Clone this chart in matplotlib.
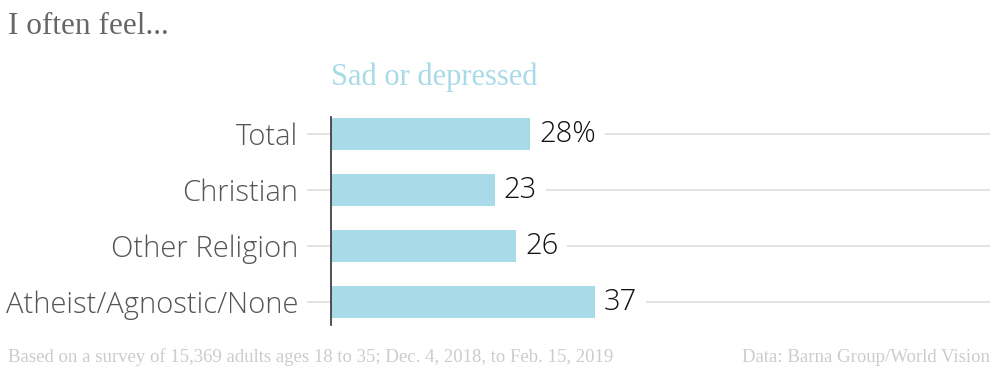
import numpy as np
import matplotlib
matplotlib.use('Agg')
import matplotlib.pyplot as plt

## == data ==
categories = ['Total', 'Christian', 'Other Religion', 'Atheist/Agnostic/None']
values = [28, 23, 26, 37]
value_labels = ['28%', '23', '26', '37']

title = 'I often feel...'
series_name = 'Sad or depressed'
note = 'Based on a survey of 15,369 adults ages 18 to 35; Dec. 4, 2018, to Feb. 15, 2019'
source = 'Data: Barna Group/World Vision'

bar_color = '#a8dae8'
grid_color = '#dddddd'

fig = plt.figure(figsize=(10, 3.74), dpi=100)
ax = fig.add_axes([0.331, 1 - 325/374, 0.659, (325 - 117)/374])

y = np.arange(len(categories))
ax.barh(y, values, height=0.57, color=bar_color, zorder=2)
ax.set_xlim(0, 92.3)
ax.set_ylim(len(categories) - 1 + 0.41, -0.30)

# horizontal gridlines behind everything
for yy in y:
    ax.axhline(yy, color=grid_color, lw=1.2, zorder=0)

ax.set_yticks(y)
ax.set_yticklabels(categories, fontsize=21, color='#555555', family='Open Sans', fontweight='light')
ax.tick_params(axis='y', length=17, width=1.2, color=grid_color, pad=6.5)
ax.set_xticks([])
for s in ['top', 'right', 'bottom']:
    ax.spines[s].set_visible(False)
ax.spines['left'].set_color('#333333')
ax.spines['left'].set_linewidth(1.2)
ax.spines['left'].set_zorder(3)

for yy, v, lab in zip(y, values, value_labels):
    ax.annotate(lab, (v, yy), xytext=(6, 0), textcoords='offset points',
                va='center', ha='left', fontsize=21, color='#111111', family='Open Sans',
                fontweight='light',
                bbox=dict(boxstyle='square,pad=0.3', fc='white', ec='none'), zorder=4)

fig.text(0.008, 1 - 27/374, title, fontsize=22.5, color='#666666', family='Liberation Serif',
         va='center', ha='left')
fig.text(0.331, 1 - 77/374, series_name, fontsize=22, color=bar_color, family='Liberation Serif',
         va='center', ha='left')
fig.text(0.008, 1 - 357/374, note, fontsize=13.5, color='#cccccc', family='Liberation Serif',
         va='center', ha='left')
fig.text(0.99, 1 - 357/374, source, fontsize=13.5, color='#cccccc', family='Liberation Serif',
         va='center', ha='right')

fig.savefig('out.png', dpi=100, facecolor='white')
